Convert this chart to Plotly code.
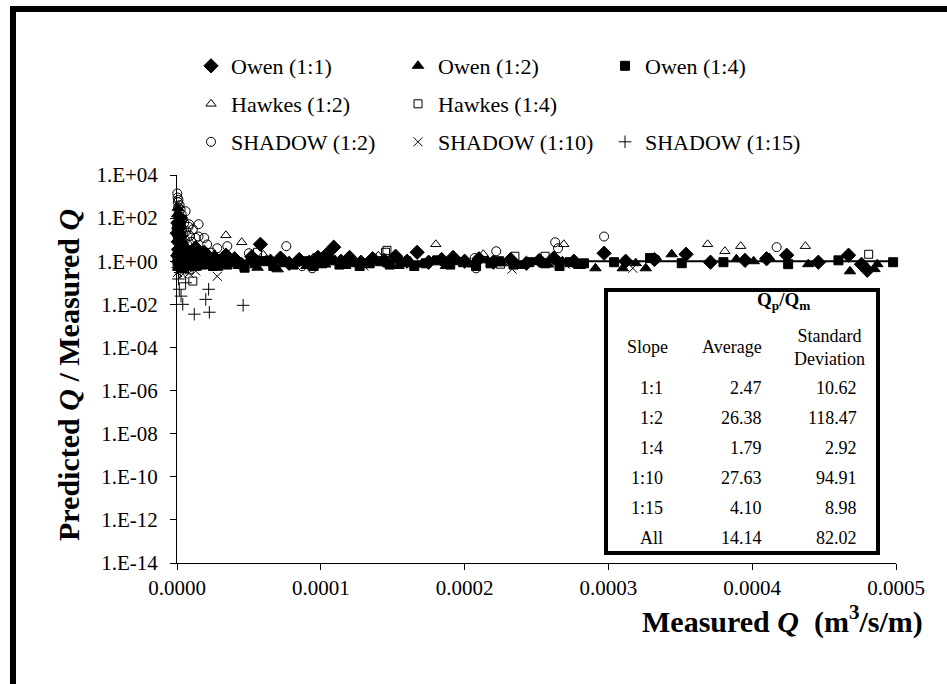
import plotly.graph_objects as go

FONT = "Liberation Serif"

# Measured Q is stored in units of 1e-6 m^3/s/m; ratio = predicted Q / measured Q
owen11_q = [0.2, 0.5, 0.6, 0.9, 1, 1.3, 1.5, 1.7, 2, 2.3, 2.7, 3, 3.5, 4, 5, 6, 7, 8, 9, 10,
            12, 13, 15, 17, 19,
            22, 26, 30, 34, 40, 45, 52, 58, 65, 72, 78, 85, 92, 98, 104, 109, 114,
            120, 128, 136, 144, 152, 160, 167, 175, 184, 192, 200, 210, 220, 232,
            243, 252, 262, 276, 297, 312, 332, 354, 371, 395, 410, 424, 446, 467,
            476, 480]
owen11_r = [20, 1.8, 60, 8, 3.5, 35, 0.9, 15, 2.4, 100, 4, 1.3, 5.0, 0.7, 1.6, 3.0, 1.1, 0.8, 2.2, 1.4,
            0.9, 4.2, 1.7, 1.1, 2.6,
            1.0, 1.5, 0.8, 1.9, 1.3, 0.7, 1.6, 6.1, 1.0, 1.4, 0.8, 1.2, 0.9, 1.5, 2.0, 4.5, 1.0,
            1.5, 0.9, 1.3, 1.1, 1.7, 1.0, 2.6, 0.9, 1.2, 1.5, 1.0, 1.3, 0.9, 1.2,
            0.8, 1.1, 1.4, 1.0, 2.35, 1.0, 1.2, 2.1, 0.9, 1.1, 1.3, 1.9, 0.9, 1.9,
            0.72, 0.38]

owen12_q = [0.1, 0.3, 0.4, 0.6, 0.8, 1.0, 1.2, 1.4, 1.8, 2, 2.4, 2.8, 3.0, 3.5, 3.8, 4.5,
            5.5, 6.5, 8, 9.5, 11, 13, 14.5, 16, 18, 20,
            24, 28, 33, 38, 43, 49, 56, 62, 70, 76, 83, 90, 97, 103, 110, 117, 124,
            131, 138, 146, 154, 162, 170, 178, 187, 196, 206, 216, 226, 238, 248,
            258, 268, 280, 291, 310, 319, 326, 344, 389, 401, 412, 439, 468, 485, 487]
owen12_r = [150, 1.2, 40, 300, 0.5, 12, 2.0, 70, 25, 0.8, 6, 1.5, 18, 0.4, 9, 1.0,
            2.6, 0.6, 1.3, 0.7, 1.8, 0.5, 1.1, 0.8, 1.4, 0.6,
            1.0, 0.5, 0.8, 1.2, 0.6, 0.9, 0.5, 1.1, 0.42, 0.8, 1.0, 0.6, 0.9, 0.7, 1.1, 0.6, 0.9,
            0.7, 1.3, 0.8, 0.6, 1.0, 0.7, 1.0, 0.6, 0.9, 0.7, 1.1, 0.8, 0.6, 0.9,
            0.7, 1.0, 0.6, 0.47, 0.47, 0.81, 0.47, 2.1, 1.24, 1.0, 1.4, 0.73, 0.34, 0.43, 0.73]

owen14_q = [0.2, 0.4, 0.7, 1, 1.3, 1.8, 2.0, 2.5, 2.8, 3.2, 3.6, 4, 5, 6, 7.5, 9, 10.5, 12,
            14, 16, 18,
            21, 25, 29, 35, 41, 47, 54, 60, 67, 74, 81, 88, 95, 101, 107, 113, 121,
            127, 134, 141, 148, 157, 165, 173, 181, 190, 199, 208, 218, 224, 234,
            245, 256, 266, 273, 283, 304, 329, 351, 380, 425, 460, 498]
owen14_r = [30, 0.9, 10, 1.6, 50, 0.6, 5, 1.2, 15, 0.8, 3, 2.0, 0.5, 1.0, 1.5, 0.7, 1.1, 0.6,
            0.9, 1.3, 0.7,
            0.9, 0.6, 1.1, 0.7, 0.9, 0.5, 0.8, 1.0, 0.6, 0.9, 0.7, 1.0, 0.6, 0.8, 1.1, 0.7, 0.9,
            0.6, 0.8, 1.0, 0.7, 0.9, 0.6, 0.8, 1.1, 0.7, 0.9, 0.6, 0.8, 1.0, 0.7,
            0.9, 0.8, 0.6, 0.9, 0.8, 0.9, 1.4, 0.81, 0.9, 0.73, 1.1, 0.9]

hawkes12_q = [0.5, 1.2, 2, 3, 4.5, 6, 8, 11, 14, 34, 45, 60, 95, 140, 180, 213,
              269, 369, 381, 392, 437]
hawkes12_r = [3.0, 8.0, 1.5, 12, 2.2, 5.5, 1.3, 3.5, 2.0, 16, 7.6, 2.0, 1.5, 1.8, 6.1, 2.1,
              6.1, 6.1, 2.9, 5.0, 5.0]

hawkes14_q = [0.6, 1.5, 2.5, 4, 6, 8.5, 11, 56, 145, 146, 225, 235, 256, 481]
hawkes14_r = [1.5, 0.6, 2.5, 0.9, 1.8, 0.4, 0.12, 2.6, 2.6, 3.2, 0.73, 1.7, 1.7, 2.1]

shadow12_q = [0.2, 0.4, 0.6, 0.8, 1.0, 1.2, 1.5, 1.8, 2.1, 2.5, 2.8, 3.2, 3.6, 4.0, 4.5,
              5.0, 5.5, 6.0, 6.5, 7.0, 8.0, 8.4, 9.0, 10, 11, 12, 13, 15, 15, 17, 19,
              21, 24, 28, 35, 50, 76, 87, 94, 207, 208, 222, 263, 265, 297, 333, 417]
shadow12_r = [1400, 900, 550, 320, 700, 200, 120, 400, 80, 250, 45, 150, 30, 90, 18,
              60, 10, 208, 25, 6, 40, 52, 15, 8, 30, 4, 12, 52, 14, 3, 12,
              6, 2.5, 4, 5, 2.35, 5, 0.59, 0.47, 1.4, 0.47, 2.9, 7.6, 4.0, 14, 1.24, 4.5]

shadow110_q = [0.3, 0.5, 0.7, 1.2, 1.5, 2, 2.5, 3, 4, 5.5, 7, 8.4, 10, 13, 16, 28, 130,
               233, 270, 317]
shadow110_r = [0.3, 20, 0.6, 1.8, 5, 0.4, 60, 0.9, 0.25, 1.2, 0.5, 0.28, 0.7, 0.35, 0.8,
               0.2, 0.6, 0.43, 0.73, 0.47]

shadow115_q = [0.4, 1, 1.6, 2.2, 2.8, 4, 5, 6, 9, 12, 20, 22, 22.5, 46]
shadow115_r = [0.5, 0.15, 0.05, 0.3, 0.024, 0.01, 0.8, 0.1, 1.2, 0.0035, 0.017, 0.05,
               0.0043, 0.009]

# Summary statistics of Qp/Qm per slope
table_slopes = ["1:1", "1:2", "1:4", "1:10", "1:15", "All"]
table_average = [2.47, 26.38, 1.79, 27.63, 4.10, 14.14]
table_std = [10.62, 118.47, 2.92, 94.91, 8.98, 82.02]

x_ticks = [0.0, 0.0001, 0.0002, 0.0003, 0.0004, 0.0005]
y_exponents = [4, 2, 0, -2, -4, -6, -8, -10, -12, -14]

series = [
    ("Owen (1:1)", owen11_q, owen11_r, "diamond", 11, "legend"),
    ("Owen (1:2)", owen12_q, owen12_r, "triangle-up", 10, "legend"),
    ("Owen (1:4)", owen14_q, owen14_r, "square", 9, "legend"),
    ("Hawkes (1:2)", hawkes12_q, hawkes12_r, "triangle-up-open", 9, "legend2"),
    ("Hawkes (1:4)", hawkes14_q, hawkes14_r, "square-open", 8, "legend2"),
    ("SHADOW (1:2)", shadow12_q, shadow12_r, "circle-open", 9, "legend3"),
    ("SHADOW (1:10)", shadow110_q, shadow110_r, "x-thin-open", 9, "legend3"),
    ("SHADOW (1:15)", shadow115_q, shadow115_r, "cross-thin-open", 9, "legend3"),
]

# plot-area geometry (pixels)
L, R, T, B = 177, 896, 175, 563
W, H = 947, 684


def px(x):
    return (x - L) / (R - L)


def py(y):
    return (B - y) / (B - T)


fig = go.Figure()

# 1:1 agreement line
fig.add_trace(go.Scatter(
    x=[x_ticks[0], x_ticks[-1]], y=[1, 1], mode="lines",
    line=dict(color="black", width=2), showlegend=False, hoverinfo="skip",
))

for name, q, r, sym, size, leg in series:
    fig.add_trace(go.Scatter(
        x=[v * 1e-6 for v in q], y=r, mode="markers", name=name, legend=leg,
        cliponaxis=False,
        marker=dict(symbol=sym, size=size, color="black",
                    line=dict(color="black", width=1)),
    ))

legend_common = dict(
    orientation="h", xanchor="left", yanchor="middle",
    font=dict(family=FONT, size=22, color="black"),
    bgcolor="rgba(0,0,0,0)", entrywidth=162, entrywidthmode="pixels",
    itemwidth=30, tracegroupgap=0,
)

annotations = []
# table header
annotations.append(dict(x=px(783), y=py(301), text="<b>Q<sub>p</sub>/Q<sub>m</sub></b>",
                        xanchor="center", yanchor="middle", font=dict(size=19)))
annotations.append(dict(x=px(647), y=py(347), text="Slope", xanchor="center", yanchor="middle"))
annotations.append(dict(x=px(764), y=py(347), text="Average", xanchor="right", yanchor="middle"))
annotations.append(dict(x=px(829), y=py(347), text="Standard<br>Deviation", xanchor="center",
                        yanchor="middle", align="center"))
for i, (s, a, d) in enumerate(zip(table_slopes, table_average, table_std)):
    yy = py(388 + 30 * i)
    annotations.append(dict(x=px(665), y=yy, text=s, xanchor="right", yanchor="middle"))
    annotations.append(dict(x=px(764), y=yy, text=f"{a:.2f}", xanchor="right", yanchor="middle"))
    annotations.append(dict(x=px(859), y=yy, text=f"{d:.2f}", xanchor="right", yanchor="middle"))
for a in annotations:
    a.update(xref="paper", yref="paper", showarrow=False)
    a.setdefault("font", dict(size=18))
    a["font"].update(family=FONT, color="black")

# axis titles
annotations.append(dict(
    xref="paper", yref="paper", x=px(68), y=py(375), textangle=-90, showarrow=False,
    text="<b>Predicted <i>Q</i> / Measured <i>Q</i></b>", xanchor="center", yanchor="middle",
    font=dict(family=FONT, size=30, color="black"),
))
annotations.append(dict(
    xref="paper", yref="paper", x=px(782), y=py(619), showarrow=False,
    text="<b>Measured <i>Q</i>  (m<sup>3</sup>/s/m)</b>", xanchor="center", yanchor="middle",
    font=dict(family=FONT, size=30, color="black"),
))

shapes = [
    # outer frame
    dict(type="rect", xref="paper", yref="paper", x0=px(13), x1=px(980), y0=py(720), y1=py(9),
         line=dict(color="black", width=6), fillcolor="rgba(0,0,0,0)"),
    # statistics table
    dict(type="rect", xref="paper", yref="paper", x0=px(606), x1=px(878), y0=py(553), y1=py(290),
         line=dict(color="black", width=4), fillcolor="white", layer="above"),
]

fig.update_layout(
    width=W, height=H,
    margin=dict(l=L, r=W - R, t=T, b=H - B),
    paper_bgcolor="white", plot_bgcolor="white",
    font=dict(family=FONT, size=20, color="black"),
    legend=dict(x=px(191), y=py(66), **legend_common),
    legend2=dict(x=px(191), y=py(104), **legend_common),
    legend3=dict(x=px(191), y=py(142), **legend_common),
    annotations=annotations,
    shapes=shapes,
    xaxis=dict(
        range=[x_ticks[0], x_ticks[-1]], tickvals=x_ticks,
        ticktext=[f"{v:.4f}" for v in x_ticks],
        showline=True, linecolor="black", linewidth=1, ticks="outside", ticklen=6,
        tickcolor="black", showgrid=False, zeroline=False,
        tickfont=dict(family=FONT, size=21, color="black"),
    ),
    yaxis=dict(
        type="log", range=[y_exponents[-1], y_exponents[0]],
        tickvals=[10.0 ** e for e in y_exponents],
        ticktext=[f"1.E{e:+03d}" for e in y_exponents],
        showline=True, linecolor="black", linewidth=1, ticks="outside", ticklen=6,
        tickcolor="black", showgrid=False, zeroline=False, ticklabelstandoff=8,
        tickfont=dict(family=FONT, size=21, color="black"),
    ),
    showlegend=True,
)

fig.write_html("out.html")
